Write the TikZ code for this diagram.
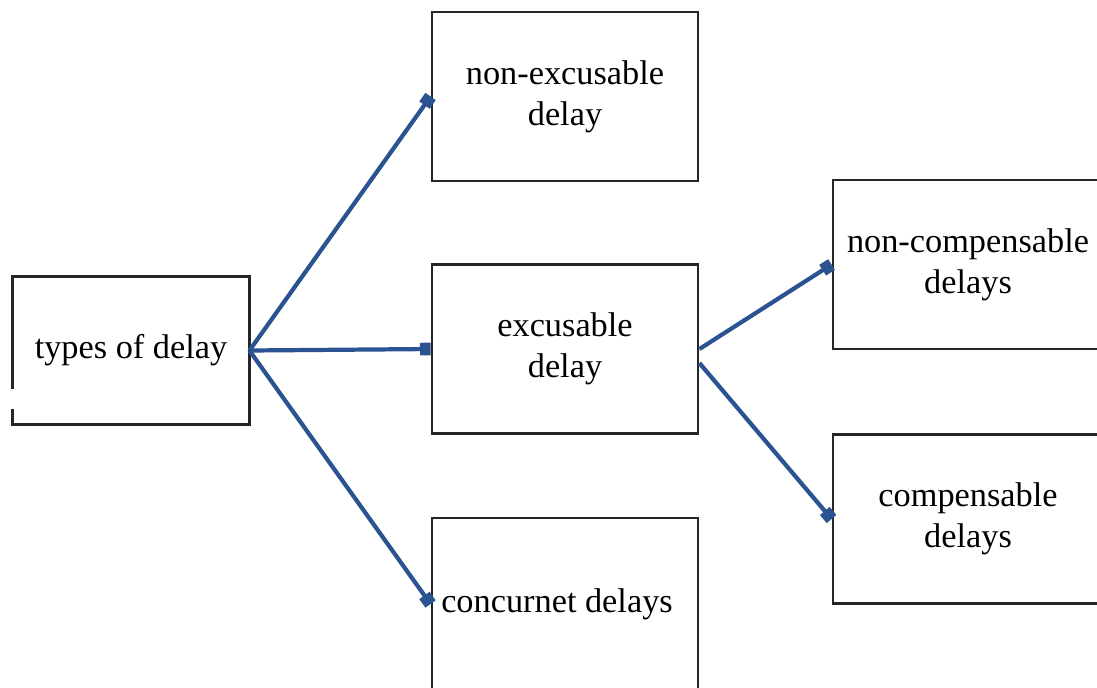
\documentclass[tikz,border=0pt]{standalone}
\usepackage{fontspec}
\setmainfont{Liberation Serif}
\usepackage{xcolor}
\usetikzlibrary{arrows.meta,calc,positioning}
\definecolor{linkblue}{HTML}{2B5391}
\begin{document}
\begin{tikzpicture}[x=0.025cm, y=-0.025cm,
    box/.style={draw=black!85, line width=2pt, align=center, inner sep=0pt,
      minimum width=6.65cm, minimum height=4.225cm, font=\fontsize{24.4}{29}\selectfont},
    link/.style={linkblue, line width=3pt, -{Square[length=7.5pt,width=9pt]}}]
    \useasboundingbox (0,0) rectangle (1097,687);
    \clip (0,0) rectangle (1097,687);
    \node[box, draw=none, minimum width=5.85cm, minimum height=3.625cm] (types) at (131,350.5) {types of delay};
    \draw[black!85, line width=2pt] ([yshift=25.5pt]types.south west) -- (types.north west) -- (types.north east)
        -- (types.south east) -- (types.south west) -- ([yshift=11.3pt]types.south west);
    \node[box] (nonexc) at (565,96.5) {non-excusable\\delay};
    \node[box] (exc) at (565,349) {excusable\\delay};
    \node[box, minimum height=4.3cm] (conc) at (565,604) {\hspace*{-0.4cm}concurnet delays};
    \node[box, minimum width=6.75cm] (noncomp) at (968,264.5) {non-compensable\\delays};
    \node[box, minimum width=6.75cm] (comp) at (968,519) {compensable\\delays};
    \draw[link] (types.east) -- (nonexc.west);
    \draw[link] (types.east) -- (exc.west);
    \draw[link] (types.east) -- (conc.west);
    \draw[link] (exc.east) -- (noncomp.west);
    \draw[link] ([yshift=-10pt]exc.east) -- (comp.west);
\end{tikzpicture}
\end{document}
